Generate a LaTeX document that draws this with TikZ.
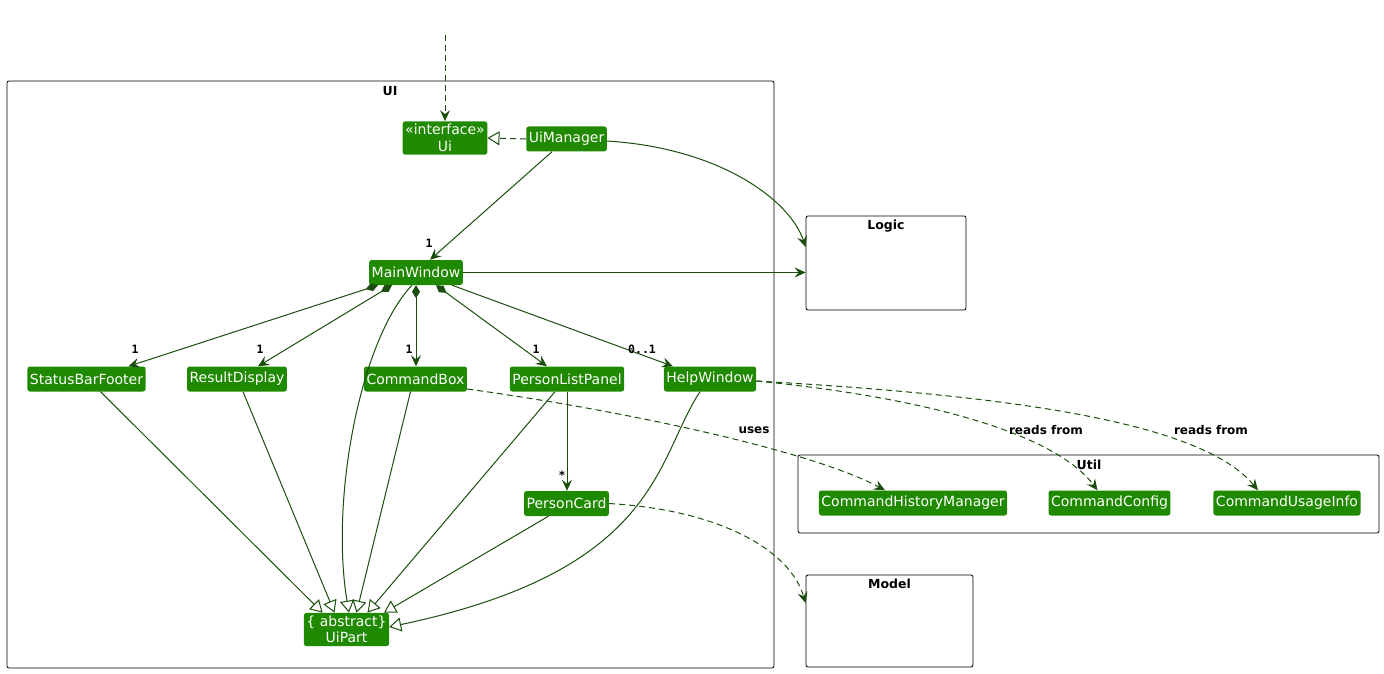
\documentclass[tikz,border=0pt]{standalone}
\usepackage{fontspec}
\setmainfont{DejaVu Sans}
\newfontfamily\monofont{DejaVu Sans Mono}
\usetikzlibrary{arrows.meta}
\definecolor{nodefill}{HTML}{1F8A00}
\definecolor{lc}{HTML}{1A4D0E}
\begin{document}
\begin{tikzpicture}[x=1pt,y=-1pt,
 cls/.style={fill=nodefill, draw=none, rounded corners=2.5pt, text=white,
   font=\fontsize{14}{16.5}\selectfont, inner xsep=2.5pt, inner ysep=3pt,
   minimum height=25pt, align=center},
 pkg/.style={draw=black, line width=0.8pt, rounded corners=2pt, inner sep=0pt},
 pkgtitle/.style={font=\bfseries\fontsize{12.5}{14}\selectfont, anchor=center},
 edge/.style={draw=lc, line width=1pt},
 dashedge/.style={edge, dash pattern=on 6pt off 4pt},
 arr/.style={-{Stealth[length=11pt,width=10pt,inset=4pt]}},
 real/.style={-{Triangle[length=12pt,width=14pt,fill=white,line width=1pt]}},
 comp/.style={{Diamond[length=13pt,width=8pt]}-{Stealth[length=11pt,width=10pt,inset=4pt]}},
 mult/.style={font=\monofont\bfseries\fontsize{11.5}{12}\selectfont, text=black, inner sep=0pt},
 elabel/.style={font=\bfseries\fontsize{12}{14}\selectfont, text=black, inner sep=0pt},
]
\useasboundingbox (0,0) rectangle (1384,674);

% packages
\node[pkg, minimum width=767pt, minimum height=587pt] (uipkg) at (390.5,374.5) {};
\node[pkgtitle] (uit) at (390,91) {UI};
\node[pkg, minimum width=160pt, minimum height=94pt] (logic) at (886,263) {};
\node[pkgtitle] (logict) at (886,226) {Logic};
\node[pkg, minimum width=581pt, minimum height=78pt] (util) at (1088.5,494) {};
\node[pkgtitle] (utilt) at (1089,465) {Util};
\node[pkg, minimum width=167pt, minimum height=92pt] (model) at (889.5,621) {};
\node[pkgtitle] (modelt) at (889.5,584) {Model};

% classes
\node[cls] (ui) at (445,138) {«interface»\\Ui};
\node[cls] (um) at (566.5,139) {UiManager};
\node[cls] (mw) at (416,272.5) {MainWindow};
\node[cls] (sbf) at (86.5,379) {StatusBarFooter};
\node[cls] (rd) at (237,379) {ResultDisplay};
\node[cls] (cb) at (415.5,379) {CommandBox};
\node[cls] (plp) at (567,379) {PersonListPanel};
\node[cls] (hw) at (710,379) {HelpWindow};
\node[cls] (pc) at (566.5,503.5) {PersonCard};
\node[cls] (up) at (346.5,629.5) {\{ abstract\}\\UiPart};
\node[cls] (chm) at (913,503) {CommandHistoryManager};
\node[cls] (cc) at (1109.5,503) {CommandConfig};
\node[cls] (cui) at (1287,503) {CommandUsageInfo};

% connectors
\coordinate (src) at (445,35);
\draw[dashedge,arr] (src) -- (ui.north);
\draw[dashedge,real] (um.west) -- (ui.east);
\draw[edge,arr] ([xshift=-14.5pt]um.south) -- ([xshift=14pt]mw.north);
\node[mult] (m0) at (429,243) {1};
\draw[edge,arr] ([yshift=-2pt]um.east) .. controls (720,148) and (790,200) .. ([yshift=16pt]logic.west);
\draw[edge,arr] (mw.east) -- (logic.west |- mw.east);

\draw[edge,comp] ([xshift=-38pt]mw.south) -- ([xshift=42pt]sbf.north);
\node[mult] (m1) at (135,349) {1};
\draw[edge,comp] ([xshift=-24pt]mw.south) -- ([xshift=21pt]rd.north);
\node[mult] (m2) at (260,349) {1};
\draw[edge,comp] (mw.south) -- (mw.south |- cb.north);
\node[mult] (m3) at (409,349) {1};
\draw[edge,comp] ([xshift=20pt]mw.south) -- ([xshift=-20pt]plp.north);
\node[mult] (m4) at (536,349) {1};
\draw[edge,arr] ([xshift=36pt]mw.south) -- ([xshift=-37pt]hw.north);
\node[mult] (m5) at (642,349) {0..1};

\draw[edge,real] ([xshift=-4pt]mw.south) .. controls (360,340) and (330,500) .. ([xshift=2.5pt]up.north);
\draw[edge,real] ([xshift=14pt]sbf.south) -- ([xshift=-24pt]up.north);
\draw[edge,real] ([xshift=6pt]rd.south) -- ([xshift=-12pt]up.north);
\draw[edge,real] ([xshift=-5pt]cb.south) -- ([xshift=10pt]up.north);
\draw[edge,real] ([xshift=-12pt]plp.south) -- ([xshift=21pt]up.north);
\draw[edge,real] ([xshift=-18pt]pc.south) -- ([xshift=37.5pt]up.north);
\draw[edge,real] ([xshift=-10pt]hw.south) .. controls (655,460) and (660,570) .. ([yshift=2.5pt]up.east);

\draw[edge,arr] (plp.south) -- (plp.south |- pc.north);
\node[mult] (m6) at (562,475) {*};

\draw[dashedge,arr] ([yshift=-10pt]cb.east) .. controls (620,410) and (810,450) .. ([xshift=-28pt]chm.north);
\node[elabel] (l1) at (754,430) {uses};
\draw[dashedge,arr] ([yshift=-2pt]hw.east) .. controls (950,400) and (1060,440) .. ([xshift=-12pt]cc.north);
\node[elabel] (l2) at (1046,430) {reads from};
\draw[dashedge,arr] ([yshift=-2pt]hw.east) .. controls (1000,395) and (1200,420) .. ([xshift=-29pt]cui.north);
\node[elabel] (l3) at (1211,430) {reads from};
\draw[dashedge,arr] (pc.east) .. controls (720,510) and (790,550) .. ([yshift=18pt]model.west);
\end{tikzpicture}
\end{document}
